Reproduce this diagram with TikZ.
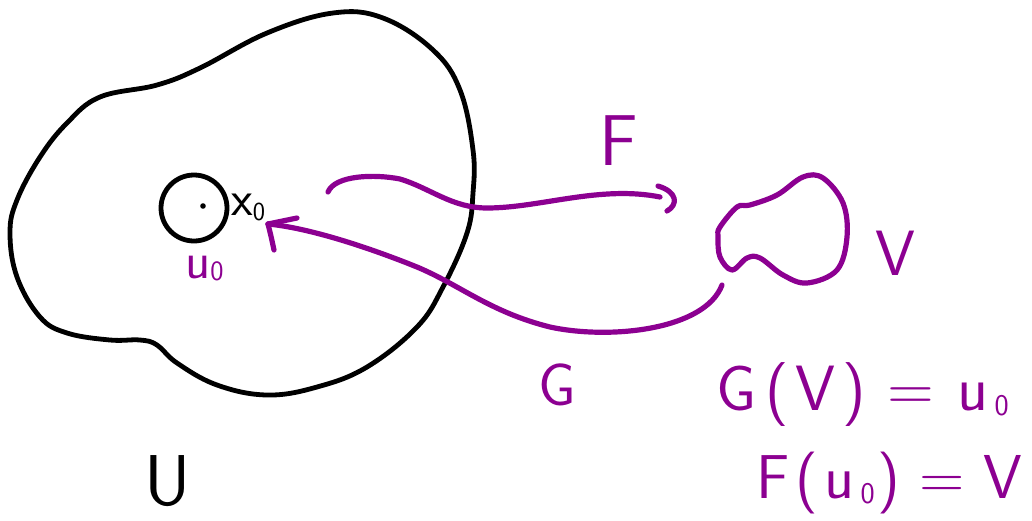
\documentclass[tikz,border=0pt]{standalone}
\definecolor{pen}{RGB}{140,0,145}
\tikzset{
  blackline/.style={draw=black, line width=4.8pt, line cap=round, line join=round},
  penline/.style={draw=pen, line width=5.2pt, line cap=round, line join=round},
  penlabel/.style={text=pen, inner sep=0pt, font=\sffamily},
}
\newcommand{\fs}[1]{\fontsize{#1}{#1}\selectfont}
\begin{document}
\begin{tikzpicture}[x=1pt,y=-1pt]
\useasboundingbox (0,0) rectangle (1032,520);
% the set U
\draw[blackline] plot[smooth cycle, tension=0.65] coordinates {
 (100,97) (157,85) (200,68) (267,33) (333,13) (383,18) (433,50) (460,90)
 (473,150) (473,193) (467,233) (443,287) (417,327) (367,367) (317,387)
 (267,395) (217,385) (177,363) (157,345) (140,340) (110,340) (67,333)
 (40,317) (17,277) (10,233) (17,200) (40,157) (67,123)};
% small ball
\node[circle, draw=black, line width=4.8pt, minimum size=66pt, inner sep=0pt] (ball) at (194,208) {};
\fill[black] (203,206) circle (2.8pt);
\node[inner sep=0pt, anchor=base west, font=\sffamily\fs{50}] (x0) at (231,215) {x\raisebox{-0.25ex}{\fs{26}0}};
% U label
\node[inner sep=0pt, anchor=base, font=\sffamily\fs{72}] (Ulab) at (168,505) {U};
% u0 label
\node[penlabel, anchor=base west, font=\sffamily\fs{52}] (u0) at (185,278) {u\raisebox{-0.1ex}{\fs{28}0}};
% set V
\draw[penline] plot[smooth cycle, tension=0.6] coordinates {
 (720,227) (737,207) (750,205) (777,195) (803,177) (823,178) (843,203)
 (847,237) (837,270) (807,283) (783,275) (760,258) (747,258) (732,270)
 (720,257) (718,237)};
\node[penlabel, anchor=base, font=\sffamily\fs{64}] (Vlab) at (895,275) {V};
% arrow F
\coordinate (Fs) at (328,192);
\coordinate (Fe) at (660,197);
\draw[penline] (Fs) .. controls (335,175) and (375,174) .. (400,179)
  .. controls (430,188) and (452,208) .. (487,208)
  .. controls (540,208) and (600,185) .. (Fe);
\coordinate (Fh1) at (658,186);
\coordinate (Fh2) at (667,211);
\draw[penline] (Fh1) .. controls (678,192) and (678,205) .. (Fh2);
\node[penlabel, anchor=base, font=\sffamily\fs{72}] (Flab) at (619,165) {F};
% arrow G
\coordinate (Gs) at (722,285);
\coordinate (Ge) at (268,224);
\draw[penline] (Gs) .. controls (705,330) and (610,340) .. (550,327)
  .. controls (490,312) and (460,285) .. (417,267)
  .. controls (370,248) and (310,228) .. (Ge);
\coordinate (Gh1) at (297,218);
\coordinate (Gh2) at (274,250);
\draw[penline] (Ge) -- (Gh1);
\draw[penline] (Ge) .. controls (271,236) .. (Gh2);
\node[penlabel, anchor=base, font=\sffamily\fs{60}] (Glab) at (557,405) {G};
% equations
\node[penlabel, anchor=base west, font=\sffamily\fs{64}] (eq1) at (716,410)
  {G\hspace{0.15em}(\hspace{0.1em}V\hspace{0.1em})\hspace{0.35em}=\hspace{0.35em}u\hspace{0.1em}\raisebox{-0.2ex}{\fs{30}0}};
\node[penlabel, anchor=base west, font=\sffamily\fs{62}] (eq2) at (756,498)
  {F\hspace{0.1em}(\hspace{0.1em}u\hspace{0.1em}\raisebox{-0.2ex}{\fs{30}0}\hspace{0.05em})\hspace{0.3em}=\hspace{0.3em}V};
\end{tikzpicture}
\end{document}
